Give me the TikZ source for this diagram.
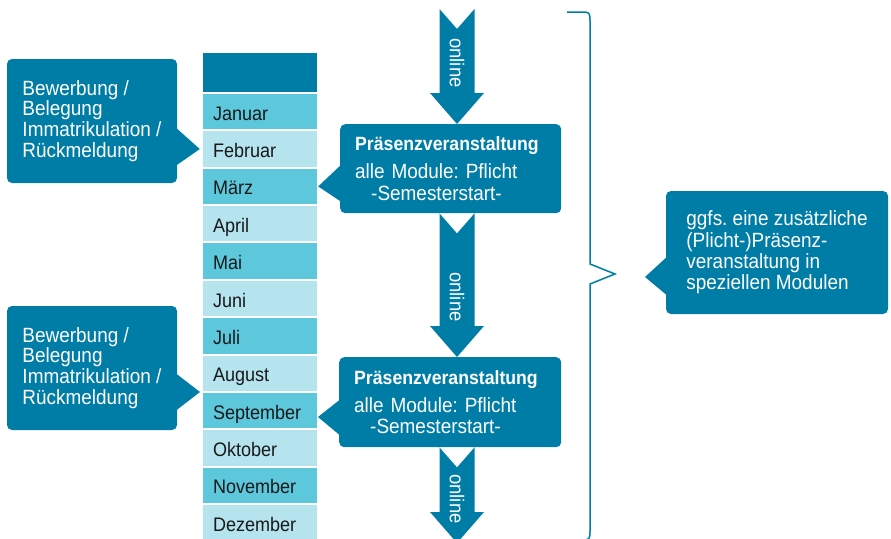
\documentclass[tikz,border=0pt]{standalone}
\usepackage{fontspec}
\setmainfont{Liberation Sans}[FakeStretch=0.92]
\frenchspacing
\definecolor{hsblau}{RGB}{0,125,167}
\definecolor{hsmittel}{RGB}{93,199,219}
\definecolor{hshell}{RGB}{181,227,238}
\tikzset{
  monat/.style={minimum width=114pt,minimum height=35.4pt,inner xsep=10pt,inner ysep=0pt,
    text width=94pt,align=left,text height=17pt,text depth=0pt,text=black!90,
    font=\fontsize{19.6}{22}\selectfont},
  hinweis/.style={fill=hsblau,rounded corners=5pt,text=white,align=left,inner sep=0pt,
    font=\fontsize{20.6}{20.8}\selectfont},
  onl/.style={rotate=-90,text=white,inner sep=0pt,font=\fontsize{20}{20}\selectfont},
  klammer/.style={draw=hsblau,line width=1.5pt}
}
\newcommand{\onlinepfeil}[2]{%
  \fill[hsblau] ([xshift=-17.5pt]#1) -- ([yshift=-20pt]#1) -- ([xshift=17.5pt]#1)
    -- ([shift={(17.5pt,31pt)}]#2) -- ([shift={(27pt,31pt)}]#2) -- (#2)
    -- ([shift={(-27pt,31pt)}]#2) -- ([shift={(-17.5pt,31pt)}]#2) -- cycle;}
\begin{document}
\begin{tikzpicture}[x=1pt,y=-1pt]
\useasboundingbox (0,0) rectangle (891,538);

\node[fill=hsblau,minimum width=114pt,minimum height=39pt,inner sep=0pt] (kopf) at (260,72.5) {};
\foreach \name [count=\i] in {Januar,Februar,März,April,Mai,Juni,Juli,August,September,Oktober,November,Dezember} {
  \ifodd\i\def\farbe{hsmittel}\else\def\farbe{hshell}\fi
  \node[monat,fill=\farbe] (m\i) at (260,{111.7+37.36*(\i-1)}) {\name};
}

\node[hinweis,minimum width=170pt,minimum height=124pt] (bew1) at (92,121)
  {Bewerbung /\\Belegung\\Immatrikulation /\\Rückmeldung};
\fill[hsblau] (174,126) -- ([xshift=-3pt]m2.west) -- (174,167) -- cycle;
\node[hinweis,minimum width=170pt,minimum height=124pt] (bew2) at (92,368)
  {Bewerbung /\\Belegung\\Immatrikulation /\\Rückmeldung};
\fill[hsblau] (174,372) -- (200,392) -- (174,412) -- cycle;

\node[hinweis,anchor=north west,minimum width=221pt,minimum height=89pt,text width=191pt,
  inner xsep=15pt,font=\fontsize{20.6}{21.5}\selectfont] (praes1) at (340,124)
  {{\fontsize{19.2}{20}\selectfont\bfseries Präsenzveranstaltung}\\[6.5pt]
   alle Module: Pflicht\\\hspace*{16pt}-Semesterstart-};
\fill[hsblau] (343,163) -- ([xshift=1pt]m3.east) -- (343,203) -- cycle;
\node[hinweis,anchor=north west,minimum width=222pt,minimum height=90pt,text width=192pt,
  inner xsep=15pt,font=\fontsize{20.6}{21.5}\selectfont] (praes2) at (339,357)
  {{\fontsize{19.2}{20}\selectfont\bfseries Präsenzveranstaltung}\\[6.5pt]
   alle Module: Pflicht\\\hspace*{16pt}-Semesterstart-};
\fill[hsblau] (342,398) -- (318,417) -- (342,437) -- cycle;

\coordinate (o1) at (457,9);
\coordinate (u1) at (457,0 |- praes1.north);
\coordinate (o2) at (457,0 |- praes1.south);
\coordinate (u2) at (457,0 |- praes2.north);
\coordinate (o3) at (457,0 |- praes2.south);
\coordinate (u3) at (457,543);
\onlinepfeil{o1}{u1}
\onlinepfeil{o2}{u2}
\onlinepfeil{o3}{u3}
\node[onl] (on1) at (457,63) {online};
\node[onl] (on2) at (457,297) {online};
\node[onl] (on3) at (457,499) {online};

\draw[klammer] (567,12) -- (580,12) .. controls (590,12) .. (590,22) -- (590,264) -- (615,274)
  -- (590,284) -- (590,530) .. controls (590,540) .. (580,540) -- (567,540);

\node[hinweis,minimum width=222pt,minimum height=123pt,font=\fontsize{20.6}{21.3}\selectfont]
  (zusatz) at (777,252.5)
  {ggfs. eine zusätzliche\\(Plicht-)Präsenz-\\veranstaltung in\\speziellen Modulen};
\fill[hsblau] (669,255) -- (645,277) -- (669,297) -- cycle;
\end{tikzpicture}
\end{document}
